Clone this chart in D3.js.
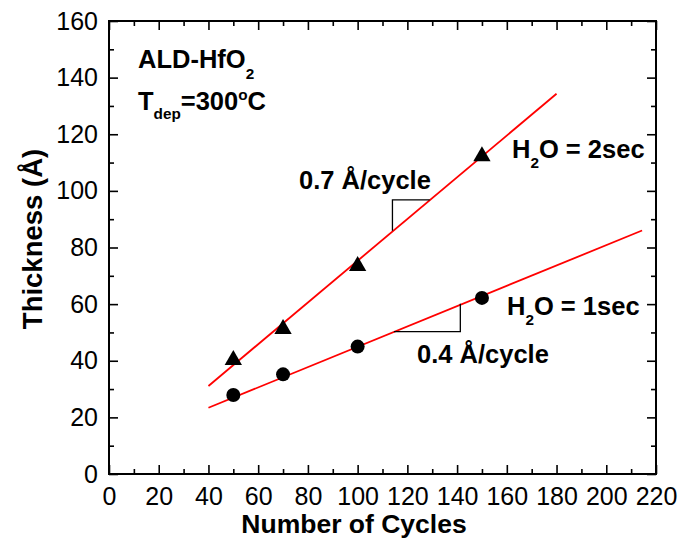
<!DOCTYPE html>
<html>
<head>
<meta charset="utf-8">
<script src="https://cdn.jsdelivr.net/npm/d3@7"></script>
<style>
  html, body { margin: 0; padding: 0; background: #fff; }
  svg { display: block; font-family: Arial, "Liberation Sans", Helvetica, sans-serif; }
</style>
</head>
<body>
<svg id="chart" width="679" height="545"></svg>
<script>
// Growth of ALD-HfO2 films vs. number of cycles
const cycles = [50, 70, 100, 150];
const thick2sec = [40.6, 51.6, 73.8, 112.6];   // H2O pulse = 2 sec (triangles)
const thick1sec = [27.9, 35.2, 45.0, 62.2];    // H2O pulse = 1 sec (circles)

// Linear fit lines (end points)
const fit2secX = [40, 180];
const fit2secY = [31.1, 134.3];
const fit1secX = [40, 214.4];
const fit1secY = [23.4, 86.0];

// Slope marker corners [x, y]
const slope2sec = [[114, 85.9], [114, 96.8], [129, 96.8]];
const slope1sec = [[114.6, 50.3], [141.3, 50.3], [141.3, 60.1]];

const xTicks = [0, 20, 40, 60, 80, 100, 120, 140, 160, 180, 200, 220];
const yTicks = [0, 20, 40, 60, 80, 100, 120, 140, 160];
const xMinor = d3.range(10, 220, 20);
const yMinor = d3.range(10, 160, 20);

const svg = d3.select("#chart");
const L = 109, R = 656, T = 21, B = 474;

const x = d3.scaleLinear().domain([0, 220]).range([L, R]);
const y = d3.scaleLinear().domain([0, 160]).range([B, T]);

const major = 9, minor = 5;

// Axes: bottom / left with labels, top / right mirrored without labels; ticks point inward
function drawAxis(axis, transform, showLabels) {
  const g = svg.append("g").attr("transform", transform).call(axis);
  g.select(".domain").remove();
  g.selectAll("line").attr("stroke", "#000").attr("stroke-width", 1.6);
  if (!showLabels) g.selectAll("text").remove();
  return g;
}

const bx = drawAxis(d3.axisBottom(x).tickValues(xTicks).tickSize(-major).tickPadding(13).tickFormat(d3.format("d")),
  `translate(0,${B})`, true);
bx.selectAll("text").attr("font-size", 25).attr("fill", "#000")
  .attr("font-family", "Arial, 'Liberation Sans', sans-serif");
drawAxis(d3.axisBottom(x).tickValues(xMinor).tickSize(-minor).tickFormat(""), `translate(0,${B})`, false);
drawAxis(d3.axisTop(x).tickValues(xTicks).tickSize(-major).tickFormat(""), `translate(0,${T})`, false);
drawAxis(d3.axisTop(x).tickValues(xMinor).tickSize(-minor).tickFormat(""), `translate(0,${T})`, false);

const ly = drawAxis(d3.axisLeft(y).tickValues(yTicks).tickSize(-major).tickPadding(11).tickFormat(d3.format("d")),
  `translate(${L},0)`, true);
ly.selectAll("text").attr("font-size", 25).attr("fill", "#000")
  .attr("font-family", "Arial, 'Liberation Sans', sans-serif");
drawAxis(d3.axisLeft(y).tickValues(yMinor).tickSize(-minor).tickFormat(""), `translate(${L},0)`, false);
drawAxis(d3.axisRight(y).tickValues(yTicks).tickSize(-major).tickFormat(""), `translate(${R},0)`, false);
drawAxis(d3.axisRight(y).tickValues(yMinor).tickSize(-minor).tickFormat(""), `translate(${R},0)`, false);

// Frame
svg.append("rect").attr("x", L).attr("y", T).attr("width", R - L).attr("height", B - T)
  .attr("fill", "none").attr("stroke", "#000").attr("stroke-width", 2);

// Axis titles
svg.append("text").attr("x", 354).attr("y", 533).attr("text-anchor", "middle")
  .attr("font-size", 26.5).attr("font-weight", "bold").text("Number of Cycles");
svg.append("text").attr("transform", `translate(42,${239}) rotate(-90)`).attr("text-anchor", "middle")
  .attr("font-size", 27.5).attr("font-weight", "bold").text("Thickness (Å)");

// Fit lines
const line = d3.line().x(d => x(d[0])).y(d => y(d[1]));
svg.append("path").datum(d3.zip(fit2secX, fit2secY)).attr("d", line)
  .attr("fill", "none").attr("stroke", "#ff0000").attr("stroke-width", 1.8);
svg.append("path").datum(d3.zip(fit1secX, fit1secY)).attr("d", line)
  .attr("fill", "none").attr("stroke", "#ff0000").attr("stroke-width", 1.8);

// Slope markers
[slope2sec, slope1sec].forEach(pts => {
  svg.append("path").datum(pts).attr("d", line)
    .attr("fill", "none").attr("stroke", "#000").attr("stroke-width", 1.3);
});

// Data markers
const tri = d3.symbol().type(d3.symbolTriangle).size(130);
svg.append("g").selectAll("path").data(d3.zip(cycles, thick2sec)).join("path")
  .attr("d", tri).attr("transform", d => `translate(${x(d[0])},${y(d[1]) + 1})`).attr("fill", "#000");
svg.append("g").selectAll("circle").data(d3.zip(cycles, thick1sec)).join("circle")
  .attr("cx", d => x(d[0])).attr("cy", d => y(d[1])).attr("r", 7).attr("fill", "#000");

// Annotations (tspans with shifted baselines for sub/superscripts)
function label(xp, yp, size, parts) {
  const t = svg.append("text").attr("x", xp).attr("y", yp).attr("font-size", size).attr("font-weight", "bold");
  parts.forEach(p => {
    const s = t.append("tspan").text(p.t);
    if (p.small) s.attr("font-size", size * 0.6);
    if (p.dy) s.attr("dy", p.dy);
  });
  return t;
}
label(138, 68, 25.5, [{t: "ALD-HfO"}, {t: "2", small: true, dy: 11}]);
label(138, 110, 25.5, [{t: "T"}, {t: "dep", small: true, dy: 9}, {t: "=300", dy: -9}, {t: "o", small: true, dy: -10}, {t: "C", dy: 10}]);
label(299, 189, 25.5, [{t: "0.7 Å/cycle"}]);
label(417, 363, 25.5, [{t: "0.4 Å/cycle"}]);
label(512, 158, 25.5, [{t: "H"}, {t: "2", small: true, dy: 10}, {t: "O = 2sec", dy: -10}]);
label(507, 315, 25.5, [{t: "H"}, {t: "2", small: true, dy: 10}, {t: "O = 1sec", dy: -10}]);
</script>
</body>
</html>
